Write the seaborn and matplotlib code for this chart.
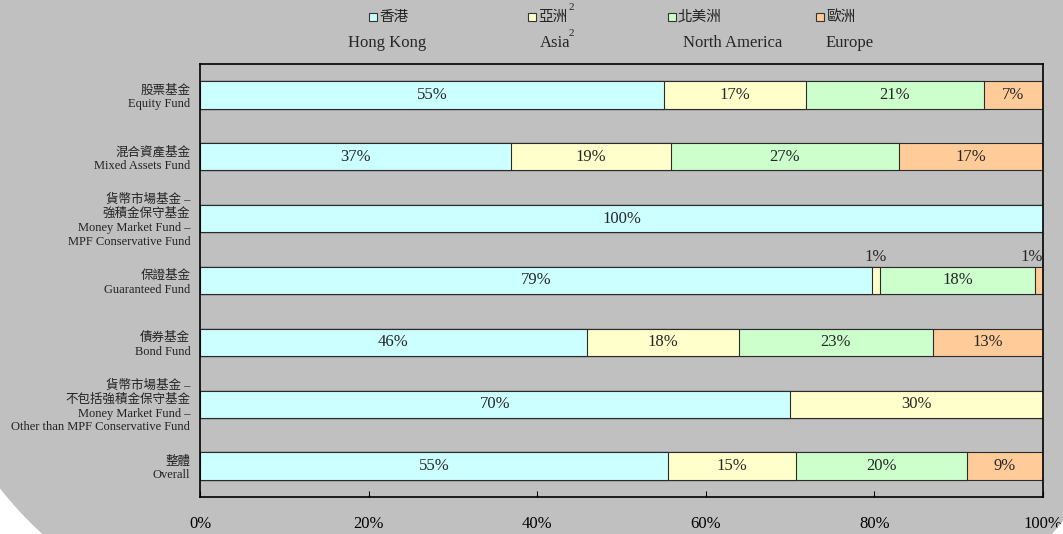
import numpy as np
import pandas as pd
import seaborn as sns
import matplotlib.pyplot as plt
from matplotlib.patches import Rectangle, Polygon

# data (shares in %)
funds = ["股票基金\nEquity Fund",
         "混合資產基金\nMixed Assets Fund",
         "貨幣市場基金 –\n強積金保守基金\nMoney Market Fund –\nMPF Conservative Fund",
         "保證基金\nGuaranteed Fund",
         "債券基金\nBond Fund",
         "貨幣市場基金 –\n不包括強積金保守基金\nMoney Market Fund –\nOther than MPF Conservative Fund",
         "整體\nOverall"]
regions = ["香港", "亞洲", "北美洲", "歐洲"]
regions_en = ["Hong Kong", "Asia", "North America", "Europe"]
hong_kong = [55.0, 36.9, 100.0, 79.7, 45.9, 70.0, 55.5]
asia = [16.9, 19.0, 0.0, 1.0, 18.0, 30.0, 15.2]
north_america = [21.1, 27.0, 0.0, 18.4, 23.0, 0.0, 20.3]
europe = [7.0, 17.1, 0.0, 0.9, 13.1, 0.0, 9.0]
hk_labels = ["55%", "37%", "100%", "79%", "46%", "70%", "55%"]
asia_labels = ["17%", "19%", "", "1%", "18%", "30%", "15%"]
na_labels = ["21%", "27%", "", "18%", "23%", "", "20%"]
eu_labels = ["7%", "17%", "", "1%", "13%", "", "9%"]
colors = ["#CCFFFF", "#FFFFCC", "#CCFFCC", "#FFCC99"]

df = pd.DataFrame({"fund": funds, "香港": hong_kong, "亞洲": asia,
                   "北美洲": north_america, "歐洲": europe})
cum = df[regions].cumsum(axis=1)
labels = dict(zip(regions, [hk_labels, asia_labels, na_labels, eu_labels]))

sns.set_style("ticks")
plt.rcParams['font.family'] = ['Liberation Serif', 'Noto Sans CJK TC']
bg = "#C0C0C0"
W, H = 1063, 534

fig = plt.figure(figsize=(W / 100, H / 100), dpi=100, facecolor=bg)
ax = fig.add_axes([200 / W, 1 - 497 / H, 843 / W, 433 / H])
ax.set_facecolor(bg)

# stacked bars: draw cumulative totals from the back to the front
for reg, col in reversed(list(zip(regions, colors))):
    sns.barplot(x=cum[reg], y=df["fund"], orient="h", color=col, saturation=1,
                width=0.44, edgecolor="#2b2b2b", linewidth=0.8, errorbar=None, ax=ax)

for i in range(len(funds)):
    for reg in regions:
        val = df.loc[i, reg]
        txt = labels[reg][i]
        if not txt:
            continue
        end = cum.loc[i, reg]
        mid = end - val / 2
        if val < 3:
            if end > 99.5:
                ax.text(end, i - 0.25, txt, ha="right", va="bottom", fontsize=12)
            else:
                ax.text(mid, i - 0.25, txt, ha="center", va="bottom", fontsize=12)
        else:
            ax.text(mid, i, txt, ha="center", va="center", fontsize=12)

ax.set_xlim(0, 100)
ax.set_xticks([0, 20, 40, 60, 80, 100])
ax.set_xticklabels([f"{v}%" for v in [0, 20, 40, 60, 80, 100]], fontsize=12)
ax.tick_params(axis="x", direction="in", length=4, width=0.8, pad=14, colors="black")
ax.tick_params(axis="y", length=0, pad=7)
for lab in ax.get_yticklabels():
    lab.set_fontsize(9)
    lab.set_color("#222222")
ax.set_xlabel("")
ax.set_ylabel("")
for s in ax.spines.values():
    s.set_visible(True)
    s.set_color("black")
    s.set_linewidth(1.2)


def fx(x):
    return x / W


def fy(y):
    return 1 - y / H


# legend drawn by hand: Chinese on top, English below
sq_x = [369, 528, 668, 816]
en_x = [348, 540, 683, 826]
for k in range(4):
    fig.add_artist(Rectangle((fx(sq_x[k]), fy(21)), 8 / W, 8 / H, transform=fig.transFigure,
                             facecolor=colors[k], edgecolor="#333333", linewidth=0.8))
    fig.text(fx(sq_x[k] + 10), fy(17), regions[k], fontsize=10.5, va="center", ha="left",
             color="#222222")
    fig.text(fx(en_x[k]), fy(43), regions_en[k], fontsize=12, va="center", ha="left")
fig.text(fx(569), fy(8), "2", fontsize=8, va="center", ha="left")
fig.text(fx(569), fy(34), "2", fontsize=8, va="center", ha="left")

# rounded panel corners
t = np.linspace(np.deg2rad(132), np.deg2rad(142), 30)
arc = [(fx(300 + 382 * np.cos(a)), fy(252 + 382 * np.sin(a))) for a in t]
fig.add_artist(Polygon([(0, 0)] + arc[::-1] + [(fx(44), 0)], closed=True,
                       transform=fig.transFigure, facecolor="white", edgecolor="none"))
fig.add_artist(Polygon([(fx(1052), 0), (1, 0), (1, fy(521))], closed=True,
                       transform=fig.transFigure, facecolor="white", edgecolor="none"))

fig.savefig("out.png", dpi=100, facecolor=bg)
